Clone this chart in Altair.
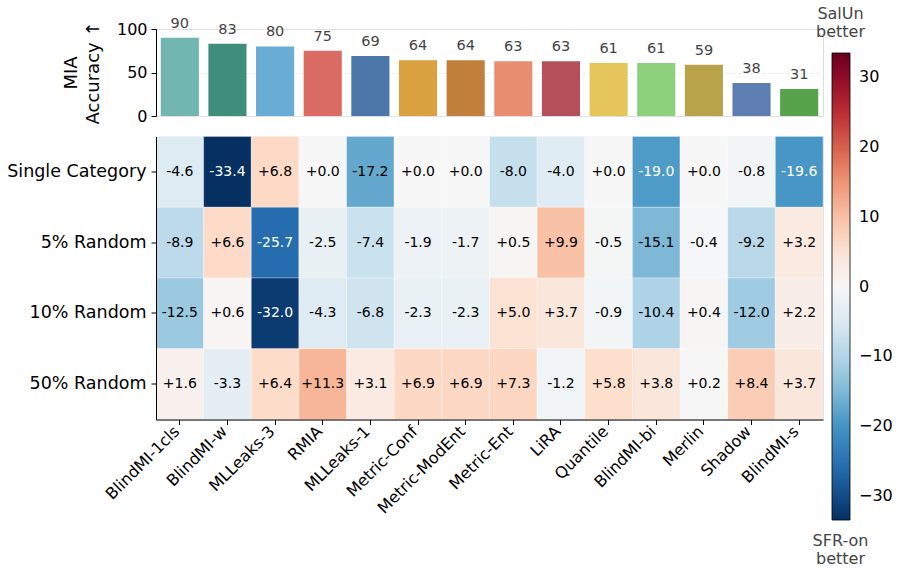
import altair as alt
import pandas as pd
import numpy as np

methods = ["BlindMI-1cls", "BlindMI-w", "MLLeaks-3", "RMIA", "MLLeaks-1", "Metric-Conf",
           "Metric-ModEnt", "Metric-Ent", "LiRA", "Quantile", "BlindMI-bi", "Merlin",
           "Shadow", "BlindMI-s"]
mia_acc = [90, 83, 80, 75, 69, 64, 64, 63, 63, 61, 61, 59, 38, 31]
bar_colors = ["#72b6b1", "#3f8d7b", "#69acd6", "#d96b63", "#4a76a8", "#d9a140", "#c07f3b",
              "#e88d70", "#b5505b", "#e4c65a", "#8dd17c", "#b8a24a", "#5e7eb2", "#56a34c"]

settings = ["Single Category", "5% Random", "10% Random", "50% Random"]
diff_single = [-4.6, -33.4, 6.8, 0.0, -17.2, 0.0, 0.0, -8.0, -4.0, 0.0, -19.0, 0.0, -0.8, -19.6]
diff_5 = [-8.9, 6.6, -25.7, -2.5, -7.4, -1.9, -1.7, 0.5, 9.9, -0.5, -15.1, -0.4, -9.2, 3.2]
diff_10 = [-12.5, 0.6, -32.0, -4.3, -6.8, -2.3, -2.3, 5.0, 3.7, -0.9, -10.4, 0.4, -12.0, 2.2]
diff_50 = [1.6, -3.3, 6.4, 11.3, 3.1, 6.9, 6.9, 7.3, -1.2, 5.8, 3.8, 0.2, 8.4, 3.7]

cbar_ticks = [-30, -20, -10, 0, 10, 20, 30]
vlim = 33.4
rdbu_r = ["#053061", "#2166ac", "#4393c3", "#92c5de", "#d1e5f0", "#f7f7f7",
          "#fddbc7", "#f4a582", "#d6604d", "#b2182b", "#67001f"]
top_note = ["SalUn better"]
bottom_note = ["SFR-on better"]

FONT = "DejaVu Sans"

bars_df = pd.DataFrame({"method": methods, "acc": mia_acc})
rows = []
for s, vals in zip(settings, [diff_single, diff_5, diff_10, diff_50]):
    for m, v in zip(methods, vals):
        rows.append({"setting": s, "method": m, "diff": v, "label": f"{v:+.1f}"})
heat_df = pd.DataFrame(rows)

W, H_BAR, H_HEAT = 667, 87, 283

x_bar = alt.X("method:N", sort=methods, axis=None,
              scale=alt.Scale(paddingInner=0.2, paddingOuter=0.1))
bar_base = alt.Chart(bars_df)
bars = bar_base.mark_bar().encode(
    x=x_bar,
    y=alt.Y("acc:Q", scale=alt.Scale(domain=[0, 100], nice=False),
            axis=alt.Axis(values=[0, 50, 100], title=["MIA", "Accuracy \u2191"],
                          titleFontSize=18, titleFontWeight="normal", titlePadding=14,
                          titleLineHeight=22,
                          labelFontSize=16, labelPadding=4, grid=True, gridDash=[3, 3],
                          gridColor="#e3e3e3", gridWidth=0.8)),
    color=alt.Color("method:N", sort=methods,
                    scale=alt.Scale(domain=methods, range=bar_colors), legend=None),
)
bar_text = bar_base.mark_text(baseline="bottom", dy=-7, fontSize=14.5, color="#444444",
                              font=FONT).encode(
    x=x_bar, y=alt.Y("acc:Q"), text=alt.Text("acc:Q", format="d"))
bar_chart = alt.layer(bars, bar_text).properties(width=W, height=H_BAR)

x_heat = alt.X("method:N", sort=methods, title=None,
               scale=alt.Scale(paddingInner=0, paddingOuter=0),
               axis=alt.Axis(labelAngle=-45, labelAlign="right", labelBaseline="middle",
                             labelFontSize=16, labelPadding=4, labelOffset=-3))
y_heat = alt.Y("setting:N", sort=settings, title=None,
               axis=alt.Axis(labelFontSize=17.5, labelPadding=5))
heat_base = alt.Chart(heat_df)
rects = heat_base.mark_rect(stroke="white", strokeWidth=0.6, strokeOpacity=0.5).encode(
    x=x_heat, y=y_heat,
    color=alt.Color("diff:Q",
                    scale=alt.Scale(domain=np.linspace(-vlim, vlim, 11).tolist(),
                                    range=rdbu_r, interpolate="rgb"),
                    legend=alt.Legend(title=None, orient="none", legendX=676, legendY=-83.5,
                                      direction="vertical", gradientLength=467,
                                      gradientThickness=18, gradientStrokeColor="black",
                                      gradientStrokeWidth=0.8, values=cbar_ticks,
                                      labelFontSize=16, labelOffset=9)),
)
cell_text = heat_base.mark_text(fontSize=14, font=FONT).encode(
    x=x_heat, y=y_heat, text="label:N",
    color=alt.condition("abs(datum.diff) > 18", alt.value("white"), alt.value("black")),
)
top_txt = alt.Chart(pd.DataFrame({"t": top_note})).mark_text(
    fontSize=16, color="#444444", lineBreak=" ", baseline="top", lineHeight=18, font=FONT
).encode(x=alt.value(684.5), y=alt.value(-130.5), text="t:N")
bot_txt = alt.Chart(pd.DataFrame({"t": bottom_note})).mark_text(
    fontSize=16, color="#444444", lineBreak=" ", baseline="top", lineHeight=18, font=FONT
).encode(x=alt.value(684.5), y=alt.value(396.5), text="t:N")

heat_chart = alt.layer(rects, cell_text, top_txt, bot_txt).properties(width=W, height=H_HEAT)

chart = alt.vconcat(bar_chart, heat_chart, spacing=20.5, bounds="flush").resolve_scale(
    color="independent"
).properties(
    padding={"left": 6, "top": 5, "right": 2, "bottom": 2}
).configure_view(strokeWidth=0).configure(font=FONT).configure_axis(
    labelColor="black", titleColor="black", domainColor="black", tickColor="black",
    tickSize=5, labelFont=FONT, titleFont=FONT, grid=False
).configure_legend(labelColor="black", labelFont=FONT)

chart.save("out.html", embed_options={"renderer": "svg", "actions": False})
